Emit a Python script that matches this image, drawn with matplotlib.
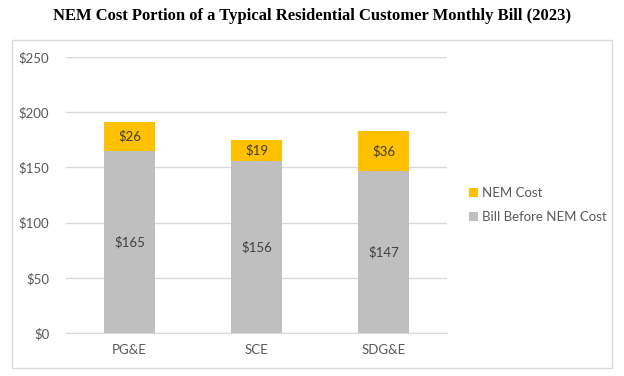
import matplotlib.pyplot as plt
from matplotlib.patches import Rectangle

utilities = ["PG&E", "SCE", "SDG&E"]
bill_before = [165, 156, 147]
nem_cost = [26, 19, 36]
y_ticks = [0, 50, 100, 150, 200, 250]

gray = "#BFBFBF"
gold = "#FFC000"
text_col = "#595959"

fig = plt.figure(figsize=(6.24, 3.76), dpi=100)
fig.patch.set_facecolor("white")

# outer chart border
fig.patches.append(Rectangle((12 / 624, 8 / 376), 600 / 624, 328 / 376,
                             transform=fig.transFigure, fill=False,
                             edgecolor="#D9D9D9", linewidth=1))

fig.text(0.5, 1 - 16 / 376, "NEM Cost Portion of a Typical Residential Customer Monthly Bill (2023)",
         ha="center", va="center", fontsize=12, fontweight="bold",
         family="Liberation Serif", color="black")

ax = fig.add_axes([66 / 624, 43 / 376, 381 / 624, 276 / 376])
x = range(len(utilities))
b1 = ax.bar(x, bill_before, width=0.4, color=gray, label="Bill Before NEM Cost", zorder=3)
b2 = ax.bar(x, nem_cost, width=0.4, bottom=bill_before, color=gold, label="NEM Cost", zorder=3)

for i in x:
    ax.text(i, bill_before[i] / 2, f"${bill_before[i]}", ha="center", va="center",
            fontsize=9.5, color="#404040", family="Lato")
    ax.text(i, bill_before[i] + nem_cost[i] / 2, f"${nem_cost[i]}", ha="center", va="center",
            fontsize=9.5, color="#404040", family="Lato")

ax.set_xlim(-0.5, 2.5)
ax.set_ylim(0, 250)
ax.set_yticks(y_ticks)
ax.set_yticklabels([f"${v}" for v in y_ticks])
ax.set_xticks(list(x))
ax.set_xticklabels(utilities)
ax.tick_params(length=0, labelsize=9.5, labelcolor=text_col, pad=12)
ax.tick_params(axis="x", pad=8)
for lbl in ax.get_xticklabels() + ax.get_yticklabels():
    lbl.set_family("Lato")
ax.yaxis.grid(True, color="#D9D9D9", linewidth=1, zorder=0)
for s in ["top", "right", "left"]:
    ax.spines[s].set_visible(False)
ax.spines["bottom"].set_color("#D9D9D9")

leg = fig.legend(handles=[b2, b1], labels=["NEM Cost", "Bill Before NEM Cost"],
                 loc="center left", bbox_to_anchor=(457 / 624, 1 - 205 / 376),
                 frameon=False, handlelength=0.7, handleheight=0.7,
                 handletextpad=0.3, labelspacing=0.9,
                 prop={"family": "Lato", "size": 9.5})
for t in leg.get_texts():
    t.set_color(text_col)

fig.savefig("out.png", dpi=100)
